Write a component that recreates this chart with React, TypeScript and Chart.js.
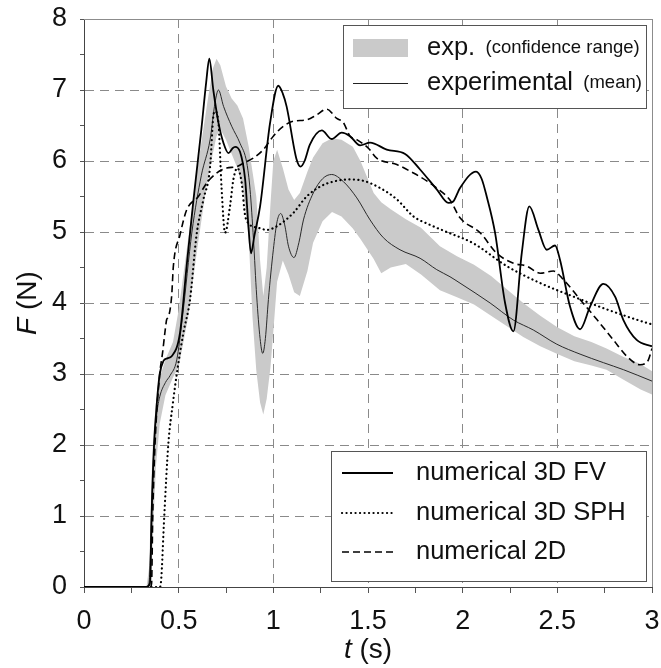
import React, { useEffect, useRef } from "react";
import { Chart, registerables } from "chart.js";

Chart.register(...registerables);

const FONT = "'Liberation Sans', Arial, Helvetica, sans-serif";

// Axis tick labels
const xMajor = [0, 0.5, 1, 1.5, 2, 2.5, 3];
const yMajor = [0, 1, 2, 3, 4, 5, 6, 7, 8];

// Experimental confidence band
const bandT = [0, 0.33, 0.345, 0.355, 0.365, 0.38, 0.4, 0.43, 0.47, 0.5, 0.55, 0.6, 0.65, 0.68, 0.7, 0.72, 0.75, 0.78, 0.81, 0.84, 0.87, 0.89, 0.91, 0.93, 0.947, 0.965, 0.985, 1.0, 1.02, 1.05, 1.08, 1.11, 1.14, 1.18, 1.21, 1.26, 1.31, 1.36, 1.42, 1.46, 1.53, 1.57, 1.62, 1.7, 1.78, 1.88, 1.97, 2.06, 2.15, 2.23, 2.32, 2.41, 2.5, 2.59, 2.68, 2.76, 2.85, 2.94, 3.0];
const bandUpper = [0, 0, 0.3, 1.4, 2.1, 2.6, 2.95, 3.2, 3.45, 3.9, 4.9, 5.9, 6.8, 7.3, 7.44, 7.35, 7.05, 6.88, 6.78, 6.6, 6.2, 5.85, 5.5, 4.6, 4.1, 4.5, 5.4, 6.0, 6.16, 5.9, 5.6, 5.45, 5.55, 5.85, 6.05, 6.25, 6.32, 6.3, 6.2, 6.0, 5.55, 5.42, 5.32, 5.18, 5.06, 4.8, 4.66, 4.54, 4.38, 4.2, 4.0, 3.82, 3.66, 3.53, 3.45, 3.36, 3.24, 3.14, 3.04];
const bandLower = [0, 0, 0, 0.1, 0.8, 1.7, 2.3, 2.7, 2.95, 3.1, 3.8, 4.8, 5.7, 6.1, 6.35, 6.45, 6.3, 6.1, 5.9, 5.6, 4.9, 3.8, 3.05, 2.6, 2.43, 2.65, 3.1, 3.6, 4.3, 4.6, 4.4, 4.15, 4.1, 4.45, 4.85, 5.15, 5.28, 5.22, 5.05, 4.9, 4.62, 4.42, 4.5, 4.55, 4.4, 4.18, 4.08, 3.98, 3.82, 3.68, 3.52, 3.39, 3.28, 3.18, 3.12, 3.06, 2.92, 2.78, 2.71];

// Experimental mean
const meanT = [0, 0.335, 0.345, 0.352, 0.36, 0.37, 0.385, 0.4, 0.43, 0.455, 0.49, 0.52, 0.57, 0.62, 0.666, 0.692, 0.71, 0.737, 0.78, 0.824, 0.86, 0.877, 0.895, 0.912, 0.93, 0.944, 0.958, 0.974, 1.0, 1.02, 1.039, 1.06, 1.08, 1.109, 1.135, 1.159, 1.211, 1.26, 1.308, 1.37, 1.441, 1.511, 1.581, 1.669, 1.775, 1.863, 1.933, 1.986, 2.145, 2.268, 2.373, 2.497, 2.62, 2.743, 2.85, 3.0];
const meanF = [0, 0, 0.1, 0.6, 1.3, 2.0, 2.45, 2.68, 2.88, 2.98, 3.2, 3.8, 5.0, 5.8, 6.3, 6.82, 7.0, 6.77, 6.49, 6.25, 5.97, 5.6, 4.9, 4.1, 3.5, 3.29, 3.5, 4.05, 4.75, 5.15, 5.26, 5.1, 4.8, 4.64, 4.85, 5.17, 5.55, 5.75, 5.81, 5.71, 5.48, 5.17, 4.92, 4.75, 4.63, 4.47, 4.37, 4.28, 4.0, 3.76, 3.62, 3.42, 3.28, 3.16, 3.06, 2.9];

// Numerical 3D FV
const fvT = [0, 0.33, 0.345, 0.35, 0.357, 0.37, 0.385, 0.4, 0.419, 0.44, 0.463, 0.507, 0.542, 0.578, 0.62, 0.645, 0.662, 0.683, 0.71, 0.737, 0.763, 0.785, 0.798, 0.824, 0.851, 0.868, 0.882, 0.9, 0.93, 0.983, 1.026, 1.05, 1.07, 1.123, 1.144, 1.165, 1.193, 1.256, 1.308, 1.361, 1.405, 1.458, 1.511, 1.599, 1.696, 1.775, 1.863, 1.925, 1.95, 1.986, 2.071, 2.1, 2.127, 2.171, 2.224, 2.268, 2.312, 2.352, 2.4, 2.444, 2.488, 2.514, 2.567, 2.62, 2.673, 2.743, 2.805, 2.849, 2.919, 3.0];
const fvF = [0, 0, 0.03, 0.1, 1.0, 2.0, 2.6, 3.0, 3.18, 3.22, 3.25, 3.58, 4.52, 5.45, 6.45, 7.1, 7.44, 7.0, 6.54, 6.25, 6.11, 6.18, 6.2, 6.13, 5.74, 5.1, 4.7, 4.95, 5.36, 6.54, 7.06, 6.95, 6.77, 6.02, 5.92, 6.0, 6.23, 6.43, 6.31, 6.4, 6.35, 6.22, 6.26, 6.16, 6.1, 5.88, 5.6, 5.41, 5.43, 5.62, 5.85, 5.75, 5.5, 4.99, 4.0, 3.6, 4.7, 5.36, 5.03, 4.75, 4.81, 4.61, 3.95, 3.63, 3.95, 4.27, 4.09, 3.76, 3.48, 3.39];

// Numerical 3D SPH
const sphT = [0, 0.4, 0.407, 0.424, 0.445, 0.47, 0.49, 0.525, 0.56, 0.595, 0.63, 0.666, 0.683, 0.692, 0.71, 0.727, 0.745, 0.771, 0.789, 0.81, 0.833, 0.85, 0.87, 0.92, 0.965, 1.018, 1.106, 1.176, 1.247, 1.317, 1.405, 1.476, 1.564, 1.652, 1.74, 1.828, 1.916, 2.057, 2.233, 2.41, 2.585, 2.761, 2.972, 3.0];
const sphF = [0, 0, 0.08, 1.0, 2.0, 2.6, 3.0, 3.58, 4.05, 4.97, 5.45, 5.92, 6.63, 6.7, 6.54, 5.6, 4.99, 5.36, 5.74, 5.9, 5.69, 5.25, 5.12, 5.06, 5.03, 5.08, 5.27, 5.5, 5.64, 5.71, 5.74, 5.72, 5.62, 5.46, 5.22, 5.1, 5.0, 4.84, 4.52, 4.28, 4.09, 3.91, 3.72, 3.7];

// Numerical 2D
const twoDT = [0, 0.35, 0.357, 0.363, 0.375, 0.4, 0.415, 0.428, 0.437, 0.445, 0.463, 0.472, 0.507, 0.542, 0.604, 0.648, 0.7, 0.754, 0.806, 0.842, 0.894, 0.947, 1.0, 1.053, 1.106, 1.176, 1.229, 1.282, 1.335, 1.37, 1.405, 1.441, 1.502, 1.546, 1.652, 1.74, 1.81, 1.863, 1.933, 1.986, 2.092, 2.18, 2.268, 2.338, 2.41, 2.479, 2.532, 2.62, 2.708, 2.796, 2.867, 2.937, 2.965, 2.981, 3.0];
const twoDF = [0, 0, 0.05, 1.0, 2.0, 3.0, 3.3, 3.6, 3.77, 3.8, 4.1, 4.52, 4.96, 5.31, 5.5, 5.69, 5.83, 5.9, 5.92, 5.97, 6.04, 6.16, 6.35, 6.49, 6.56, 6.58, 6.65, 6.73, 6.6, 6.54, 6.35, 6.3, 6.18, 6.04, 5.95, 5.83, 5.72, 5.62, 5.45, 5.2, 4.99, 4.7, 4.56, 4.52, 4.42, 4.45, 4.33, 4.05, 3.77, 3.48, 3.25, 3.13, 3.15, 3.2, 3.36];

const pts = (t: number[], f: number[]) => t.map((x, i) => ({ x, y: f[i] }));

const isMajor = (v: number, majors: number[]) => majors.some((m) => Math.abs(m - v) < 1e-6);

function drawMixed(ctx: CanvasRenderingContext2D, parts: { text: string; size: number; italic?: boolean }[], x: number, y: number, align: "left" | "center") {
  const fontOf = (p: { size: number; italic?: boolean }) => `${p.italic ? "italic " : ""}${p.size}px ${FONT}`;
  let total = 0;
  const widths = parts.map((p) => {
    ctx.font = fontOf(p);
    const w = ctx.measureText(p.text).width;
    total += w;
    return w;
  });
  let cx = align === "center" ? x - total / 2 : x;
  parts.forEach((p, i) => {
    ctx.font = fontOf(p);
    ctx.fillText(p.text, cx, y);
    cx += widths[i];
  });
}

const decor = {
  id: "decor",
  afterDraw(chart: any) {
    const { ctx, chartArea: ca } = chart;
    ctx.save();
    ctx.setLineDash([]);
    // top and right frame
    ctx.strokeStyle = "#8c8c8c";
    ctx.lineWidth = 1;
    ctx.beginPath();
    ctx.moveTo(ca.left, ca.top + 0.5);
    ctx.lineTo(ca.right + 1, ca.top + 0.5);
    ctx.moveTo(ca.right + 0.5, ca.top);
    ctx.lineTo(ca.right + 0.5, ca.bottom);
    ctx.stroke();

    ctx.fillStyle = "#111";
    ctx.textBaseline = "middle";
    ctx.textAlign = "left";

    // axis titles
    drawMixed(ctx, [{ text: "t", size: 28, italic: true }, { text: " (s)", size: 28 }], (ca.left + ca.right) / 2, 650, "center");
    ctx.save();
    ctx.translate(28.5, (ca.top + ca.bottom) / 2);
    ctx.rotate(-Math.PI / 2);
    drawMixed(ctx, [{ text: "F", size: 28, italic: true }, { text: " (N)", size: 28 }], 0, 0, "center");
    ctx.restore();

    // top legend
    const tx = ca.right - 309;
    const ty = ca.top + 6;
    ctx.fillStyle = "#fff";
    ctx.fillRect(tx, ty, 303, 83);
    ctx.strokeStyle = "#555";
    ctx.lineWidth = 1;
    ctx.strokeRect(tx + 0.5, ty + 0.5, 303, 83);
    ctx.fillStyle = "#cacaca";
    ctx.fillRect(tx + 10, ty + 14, 55, 18);
    ctx.strokeStyle = "#222";
    ctx.beginPath();
    ctx.moveTo(tx + 10, ty + 58.5);
    ctx.lineTo(tx + 65, ty + 58.5);
    ctx.stroke();
    ctx.fillStyle = "#111";
    drawMixed(ctx, [{ text: "exp.", size: 25.5 }, { text: "  (confidence range)", size: 18.5 }], tx + 84, ty + 23, "left");
    drawMixed(ctx, [{ text: "experimental", size: 25.5 }, { text: "  (mean)", size: 18.5 }], tx + 84, ty + 58, "left");

    // bottom legend
    const bx = ca.right - 321;
    const by = ca.bottom - 136;
    ctx.fillStyle = "#fff";
    ctx.fillRect(bx, by, 315, 130);
    ctx.strokeStyle = "#555";
    ctx.strokeRect(bx + 0.5, by + 0.5, 315, 130);
    const rows = [
      { label: "numerical 3D FV", dash: [] as number[], width: 1.8, cap: "butt", dy: 22 },
      { label: "numerical 3D SPH", dash: [0.1, 4.4], width: 2.2, cap: "round", dy: 62 },
      { label: "numerical 2D", dash: [7, 4], width: 1.6, cap: "butt", dy: 101 },
    ];
    rows.forEach((r) => {
      ctx.save();
      ctx.strokeStyle = "#000";
      ctx.lineWidth = r.width;
      ctx.lineCap = r.cap;
      ctx.setLineDash(r.dash);
      ctx.beginPath();
      ctx.moveTo(bx + 11, by + r.dy);
      ctx.lineTo(bx + 62, by + r.dy);
      ctx.stroke();
      ctx.restore();
      ctx.fillStyle = "#111";
      drawMixed(ctx, [{ text: r.label, size: 25.5 }], bx + 85, by + r.dy, "left");
    });
    ctx.restore();
  },
};

export default function App() {
  const ref = useRef<HTMLCanvasElement | null>(null);
  useEffect(() => {
    if (!ref.current) return;
    const lineBase = { showLine: true, pointRadius: 0, pointHoverRadius: 0, fill: false };
    const chart = new Chart(ref.current, {
      type: "scatter",
      data: {
        datasets: [
          { ...lineBase, label: "exp. upper", data: pts(bandT, bandUpper), borderWidth: 0, borderColor: "rgba(0,0,0,0)", backgroundColor: "#cacaca", fill: "+1", order: 10, tension: 0 },
          { ...lineBase, label: "exp. lower", data: pts(bandT, bandLower), borderWidth: 0, borderColor: "rgba(0,0,0,0)", order: 10, tension: 0 },
          { ...lineBase, label: "experimental (mean)", data: pts(meanT, meanF), borderColor: "#2a2a2a", borderWidth: 1, order: 5, cubicInterpolationMode: "monotone" },
          { ...lineBase, label: "numerical 3D SPH", data: pts(sphT, sphF), borderColor: "#000", borderWidth: 2.2, borderDash: [0.1, 4.4], borderCapStyle: "round", order: 3, cubicInterpolationMode: "monotone" },
          { ...lineBase, label: "numerical 2D", data: pts(twoDT, twoDF), borderColor: "#000", borderWidth: 1.6, borderDash: [7, 4], order: 2, cubicInterpolationMode: "monotone" },
          { ...lineBase, label: "numerical 3D FV", data: pts(fvT, fvF), borderColor: "#000", borderWidth: 1.8, order: 1, cubicInterpolationMode: "monotone" },
        ],
      } as any,
      options: {
        animation: false,
        responsive: false,
        devicePixelRatio: 1,
        layout: { padding: { top: 19, right: 9, left: 0, bottom: 0 } },
        plugins: { legend: { display: false }, tooltip: { enabled: false }, filler: { propagate: false } },
        scales: {
          x: {
            type: "linear",
            min: 0,
            max: 3,
            afterFit: (s: any) => { s.height = 81; s.paddingLeft = 0; s.paddingRight = 0; },
            ticks: {
              stepSize: 0.25,
              autoSkip: false,
              maxRotation: 0,
              padding: 12,
              color: "#111",
              font: { family: FONT, size: 27 },
              callback: (v: any) => (isMajor(Number(v), xMajor) ? String(Number(v)) : ""),
            },
            grid: {
              color: (c: any) => (c.tick && isMajor(c.tick.value, xMajor) && c.tick.value > 0 ? "#8a8a8a" : "rgba(0,0,0,0)"),
              lineWidth: 1,
              tickLength: 6,
              tickColor: "#555",
              tickWidth: 1,
            },
            border: { display: true, color: "#444", width: 1, dash: [9, 6] },
          },
          y: {
            type: "linear",
            min: 0,
            max: 8,
            afterFit: (s: any) => { s.width = 84; s.paddingTop = 0; s.paddingBottom = 0; },
            ticks: {
              stepSize: 0.5,
              autoSkip: false,
              padding: 13,
              color: "#111",
              font: { family: FONT, size: 27 },
              callback: (v: any) => (isMajor(Number(v), yMajor) ? String(Number(v)) : ""),
            },
            grid: {
              color: (c: any) => (c.tick && isMajor(c.tick.value, yMajor) && c.tick.value > 0 ? "#8a8a8a" : "rgba(0,0,0,0)"),
              lineWidth: 1,
              tickLength: 4,
              tickColor: "#555",
              tickWidth: 1,
            },
            border: { display: true, color: "#444", width: 1, dash: [9, 6] },
          },
        },
      } as any,
      plugins: [decor],
    });
    return () => chart.destroy();
  }, []);
  return (
    <div style={{ position: "fixed", left: 0, top: 0, width: 661, height: 668, background: "#fff" }}>
      <canvas ref={ref} width={661} height={668} style={{ display: "block", width: 661, height: 668 }} />
    </div>
  );
}
